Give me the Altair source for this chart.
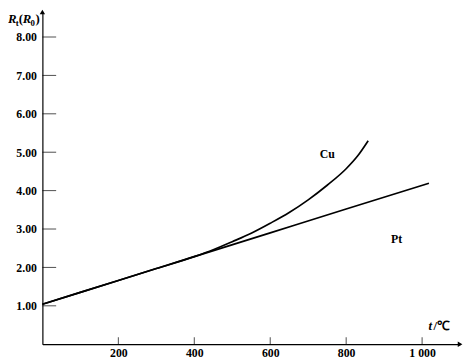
import altair as alt
import pandas as pd

# Data
cu_t = [0, 100, 200, 300, 400, 450, 500, 550, 600, 650, 700, 750, 800, 830, 858]
cu_r = [1.04, 1.35, 1.66, 1.97, 2.28, 2.46, 2.67, 2.89, 3.15, 3.43, 3.76, 4.14, 4.57, 4.90, 5.30]
pt_t = [0, 200, 400, 600, 800, 1018]
pt_r = [1.04, 1.66, 2.28, 2.90, 3.52, 4.19]
x_ticks = [200, 400, 600, 800, 1000]
y_ticks = [1, 2, 3, 4, 5, 6, 7, 8]
series_names = ["Cu", "Pt"]
label_t = [750, 933]
label_r = [4.96, 2.73]

X_MAX = 1100
Y_MAX = 8.65
FONT = "Liberation Serif"

lines_df = pd.DataFrame(
    {"t": cu_t + pt_t, "r": cu_r + pt_r,
     "s": ["Cu"] * len(cu_t) + ["Pt"] * len(pt_t)}
)
xt_df = pd.DataFrame({"t": x_ticks})
yt_df = pd.DataFrame({"r": y_ticks})
lab_df = pd.DataFrame({"t": label_t, "r": label_r, "name": series_names})

xs = alt.Scale(domain=[0, X_MAX], nice=False, zero=False)
ys = alt.Scale(domain=[0, Y_MAX], nice=False, zero=False)

x_axis = alt.Axis(values=x_ticks, ticks=False, grid=False, domainColor="black",
                  domainWidth=1.2, labelFont=FONT, labelFontWeight="bold",
                  labelFontSize=12, labelColor="black", labelPadding=4, title=None,
                  labelExpr="datum.value == 1000 ? '1 000' : datum.label")
y_axis = alt.Axis(values=y_ticks, ticks=False, grid=False, domainColor="black",
                  domainWidth=1.2, labelFont=FONT, labelFontWeight="bold",
                  labelFontSize=12, labelColor="black", labelPadding=6, title=None,
                  format=".2f")


def X(field=None, datum=None):
    if field is not None:
        return alt.X(field, scale=xs, axis=x_axis, title=None)
    return alt.XDatum(datum, scale=xs, axis=x_axis, title=None)


def Y(field=None, datum=None):
    if field is not None:
        return alt.Y(field, scale=ys, axis=y_axis, title=None)
    return alt.YDatum(datum, scale=ys, axis=y_axis, title=None)


lines = alt.Chart(lines_df).mark_line(color="black", strokeWidth=1.7,
                                      interpolate="monotone").encode(
    x=X("t:Q"), y=Y("r:Q"), detail="s:N",
)

xticks = alt.Chart(xt_df).mark_tick(orient="vertical", color="black", size=7,
                                    thickness=1, yOffset=-3.5).encode(
    x=X("t:Q"), y=Y(datum=0),
)
yticks = alt.Chart(yt_df).mark_tick(orient="horizontal", color="black", size=14,
                                    thickness=1, xOffset=7).encode(
    y=Y("r:Q"), x=X(datum=0),
)

one = pd.DataFrame({"a": [0]})

arrow_up = alt.Chart(one).mark_point(
    shape="triangle-up", filled=True, color="black", size=30, opacity=1).encode(
    x=X(datum=0), y=Y(datum=Y_MAX))
arrow_right = alt.Chart(one).mark_point(
    shape="triangle-right", filled=True, color="black", size=30, opacity=1).encode(
    x=X(datum=X_MAX), y=Y(datum=0))

labels = alt.Chart(lab_df).mark_text(font=FONT, fontWeight="bold", fontSize=12,
                                     color="black").encode(
    x=X("t:Q"), y=Y("r:Q"), text="name:N",
)


def ytitle(txt, dx, dy, size, italic=False):
    return alt.Chart(one).mark_text(
        text=txt, font=FONT, fontSize=size, fontStyle="italic" if italic else "normal",
        fontWeight="bold", align="left", baseline="alphabetic", color="black",
        dx=dx, dy=dy).encode(x=X(datum=0), y=Y(datum=Y_MAX))


def xtitle(txt, dx, dy, size, italic=False):
    return alt.Chart(one).mark_text(
        text=txt, font=FONT, fontSize=size, fontStyle="italic" if italic else "normal",
        fontWeight="bold", align="left", baseline="alphabetic", color="black",
        dx=dx, dy=dy).encode(x=X(datum=X_MAX), y=Y(datum=0))


title_parts = [
    ytitle("R", -35, 11, 13, True),
    ytitle("t", -27, 14, 9),
    ytitle("(", -24, 11, 13),
    ytitle("R", -20, 11, 13, True),
    ytitle("0", -12, 14, 9),
    ytitle(")", -7, 11, 13),
    xtitle("t", -32, -14, 13, True),
    xtitle("/℃", -27, -14, 13),
]

chart = alt.layer(lines, xticks, yticks, arrow_up, arrow_right, labels, *title_parts).properties(
    width=425, height=338,
    padding={"left": 35, "top": 1, "right": 4, "bottom": 16},
    autosize=alt.AutoSizeParams(type="none"),
).configure_view(stroke=None)

chart.save("out.html", embed_options={"renderer": "svg", "actions": False})
